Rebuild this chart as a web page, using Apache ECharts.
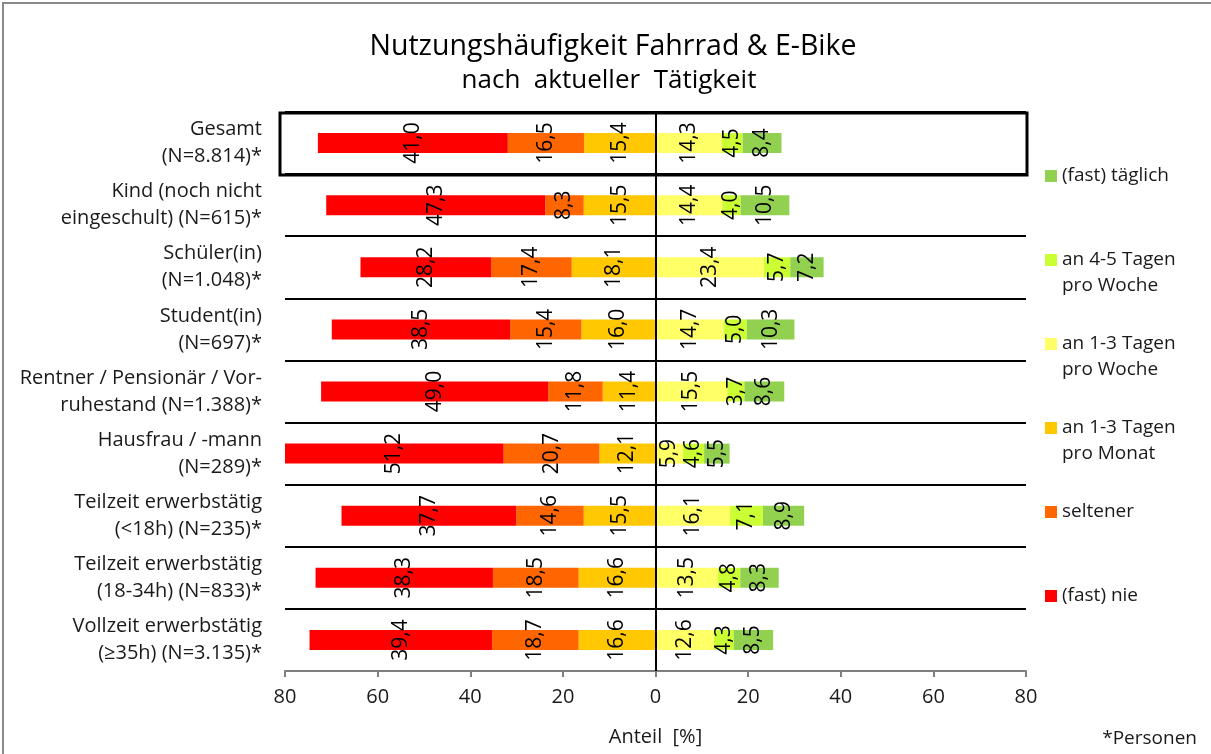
<!DOCTYPE html>
<html>
<head>
<meta charset="utf-8">
<script src="https://cdn.jsdelivr.net/npm/echarts@6/dist/echarts.min.js"></script>
<style>
  html, body { margin: 0; padding: 0; background: #fff; }
  #chart { width: 1211px; height: 754px; }
</style>
</head>
<body>
<div id="chart"></div>
<script>
// ---- data ----
const categories = [
  'Gesamt\n(N=8.814)*',
  'Kind (noch nicht\neingeschult) (N=615)*',
  'Schüler(in)\n(N=1.048)*',
  'Student(in)\n(N=697)*',
  'Rentner / Pensionär / Vor-\nruhestand (N=1.388)*',
  'Hausfrau / -mann\n(N=289)*',
  'Teilzeit erwerbstätig\n(<18h) (N=235)*',
  'Teilzeit erwerbstätig\n(18-34h) (N=833)*',
  'Vollzeit erwerbstätig\n(≥35h) (N=3.135)*'
];
const fastNie      = [41.0, 47.3, 28.2, 38.5, 49.0, 51.2, 37.7, 38.3, 39.4];
const seltener     = [16.5,  8.3, 17.4, 15.4, 11.8, 20.7, 14.6, 18.5, 18.7];
const tageMonat    = [15.4, 15.5, 18.1, 16.0, 11.4, 12.1, 15.5, 16.6, 16.6];
const tageWoche13  = [14.3, 14.4, 23.4, 14.7, 15.5,  5.9, 16.1, 13.5, 12.6];
const tageWoche45  = [ 4.5,  4.0,  5.7,  5.0,  3.7,  4.6,  7.1,  4.8,  4.3];
const fastTaeglich = [ 8.4, 10.5,  7.2, 10.3,  8.6,  5.5,  8.9,  8.3,  8.5];
const xTicks = { min: -80, max: 80, interval: 20 };

const FONT = '"Open Sans", "Noto Sans", sans-serif';
const TXT = '#1a1a1a';

const labelCfg = {
  show: true,
  position: 'inside',
  rotate: 90,
  fontSize: 21,
  fontFamily: FONT,
  color: '#000',
  formatter: p => Math.abs(p.value).toFixed(1).replace('.', ',')
};

function mk(name, values, color, negative, extra) {
  return Object.assign({
    name: name,
    type: 'bar',
    stack: 'total',
    barWidth: 20,
    clip: true,
    itemStyle: { color: color },
    label: labelCfg,
    emphasis: { disabled: true },
    data: values.map(v => negative ? -v : v)
  }, extra || {});
}

const series = [
  mk('an 1-3 Tagen pro Monat', tageMonat, '#FFC800', true, {
    markLine: {
      silent: true,
      symbol: ['none', 'none'],
      label: { show: false },
      lineStyle: { color: '#000', width: 2, type: 'solid' },
      data: [{ xAxis: 0 }]
    }
  }),
  mk('seltener', seltener, '#FF6600', true),
  mk('(fast) nie', fastNie, '#FF0000', true),
  mk('an 1-3 Tagen pro Woche', tageWoche13, '#FFFF66', false),
  mk('an 4-5 Tagen pro Woche', tageWoche45, '#CCFF33', false),
  mk('(fast) täglich', fastTaeglich, '#92D050', false)
];

const legendOrder = [
  '(fast) täglich',
  'an 4-5 Tagen pro Woche',
  'an 1-3 Tagen pro Woche',
  'an 1-3 Tagen pro Monat',
  'seltener',
  '(fast) nie'
];

// legend text: first line aligned with the marker (blank line above balances the block)
function legendText(n) {
  const i = n.indexOf(' pro ');
  if (i >= 0) return ' \n' + n.slice(0, i) + '\n' + n.slice(i + 1);
  return ' \n' + n + '\n ';
}

const chart = echarts.init(document.getElementById('chart'));
const option = {
  animation: false,
  backgroundColor: '#fff',
  textStyle: { fontFamily: FONT },
  title: [
    {
      text: 'Nutzungshäufigkeit Fahrrad & E-Bike',
      left: 613, top: 32, textAlign: 'center', padding: 0,
      textStyle: { fontSize: 28.5, fontWeight: 'normal', color: '#000', fontFamily: FONT }
    },
    {
      text: 'nach  aktueller  Tätigkeit',
      left: 609, top: 68, textAlign: 'center', padding: 0,
      textStyle: { fontSize: 26, fontWeight: 'normal', color: '#000', fontFamily: FONT }
    },
    {
      text: '*Personen',
      right: 14, bottom: 6, padding: 0,
      textStyle: { fontSize: 19, fontWeight: 'normal', color: TXT, fontFamily: FONT }
    }
  ],
  legend: {
    orient: 'vertical',
    left: 1045,
    top: 137,
    padding: 0,
    itemWidth: 12,
    itemHeight: 12,
    itemGap: 6,
    selectedMode: false,
    icon: 'rect',
    textStyle: { fontSize: 19, lineHeight: 26, color: TXT, fontFamily: FONT },
    formatter: legendText,
    data: legendOrder
  },
  grid: { left: 285, right: 185, top: 112, bottom: 83, containLabel: false },
  xAxis: {
    type: 'value',
    min: xTicks.min, max: xTicks.max, interval: xTicks.interval,
    axisLine: { show: true, onZero: false, lineStyle: { color: '#7f7f7f', width: 2 } },
    axisTick: { show: true, length: 6, inside: false, lineStyle: { color: '#7f7f7f', width: 2 } },
    splitLine: { show: false },
    axisLabel: {
      fontSize: 20, color: TXT, margin: 16, fontFamily: FONT,
      formatter: v => String(Math.abs(v))
    },
    name: 'Anteil  [%]',
    nameLocation: 'middle',
    nameGap: 56,
    nameTextStyle: { fontSize: 20, color: TXT, fontFamily: FONT }
  },
  yAxis: {
    type: 'category',
    inverse: true,
    data: categories,
    axisLine: { show: false, onZero: false },
    axisTick: { show: false },
    splitLine: { show: true, lineStyle: { color: '#000', width: 2 } },
    axisLabel: {
      fontSize: 20, lineHeight: 27, color: TXT, margin: 23, fontFamily: FONT, align: 'right'
    }
  },
  series: series
};
chart.setOption(option);

// highlight frame around the first category and outer chart border, positioned via the axes
function drawFrames() {
  const c0 = chart.convertToPixel({ yAxisIndex: 0 }, categories[0]);
  const c1 = chart.convertToPixel({ yAxisIndex: 0 }, categories[1]);
  const band = c1 - c0;
  const xl = chart.convertToPixel({ xAxisIndex: 0 }, xTicks.min);
  const xr = chart.convertToPixel({ xAxisIndex: 0 }, xTicks.max);
  chart.setOption({
    graphic: [
      {
        type: 'rect', z: 100, silent: true,
        shape: { x: xl - 5, y: c0 - band / 2 + 1, width: (xr - xl) + 6, height: band },
        style: { fill: 'none', stroke: '#000', lineWidth: 3 }
      },
      {
        type: 'rect', z: 100, silent: true,
        shape: { x: 3, y: 3, width: 1260, height: 800 },
        style: { fill: 'none', stroke: '#8a8a8a', lineWidth: 2 }
      }
    ]
  });
}
drawFrames();
</script>
</body>
</html>
